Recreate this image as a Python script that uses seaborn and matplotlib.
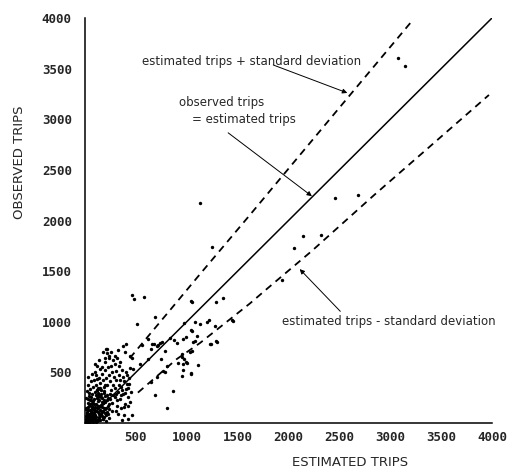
import pandas as pd
import matplotlib
matplotlib.use("Agg")
import matplotlib.pyplot as plt
import seaborn as sns

# dense blob of zones near the origin
cluster_est = [10, 20, 30, 40, 50, 60, 70, 80, 90, 15, 25, 35, 45, 55, 65, 75, 85, 95,
               5, 12, 30, 50, 60, 70, 80, 90, 20, 100, 40, 8, 18, 28, 38, 48, 58, 68, 78, 88, 98, 110,
               110, 120, 130, 140, 150, 160, 170, 180, 190, 200, 210, 220, 230, 240, 250,
               105, 115, 125, 135, 145, 155, 165, 175, 185, 195, 205, 215, 225, 235, 245,
               120, 140, 160, 180, 200, 220, 240, 130, 150, 170, 190, 210, 230,
               10, 20, 30, 40, 50, 60, 70, 80, 90, 100, 110, 120, 130, 140, 150,
               25, 45, 65, 85, 105, 125, 145, 35, 55, 75, 95, 115, 135,
               260, 270, 280, 290, 300, 310, 320, 330, 340, 350, 360, 370, 380, 390, 400, 410, 420, 430, 440, 450,
               265, 285, 305, 325, 345, 365, 385, 405, 425, 445,
               275, 295, 315, 335, 355, 375, 395, 415, 435, 300, 350, 420, 380,
               160, 180, 200, 220, 240, 260, 280, 300, 170, 190, 210, 230, 250, 270, 290, 310, 330,
               150, 200, 240, 120, 140, 180, 220, 100, 260, 320, 340]
cluster_obs = [20, 60, 10, 90, 40, 120, 20, 70, 140, 110, 160, 40, 130, 80, 170, 50, 100, 30,
               70, 140, 200, 10, 60, 110, 150, 190, 30, 80, 170, 40, 90, 130, 60, 190, 30, 150, 100, 40, 120, 10,
               60, 150, 220, 90, 30, 180, 250, 120, 60, 210, 150, 280, 90, 190, 240,
               190, 250, 110, 30, 170, 260, 70, 200, 300, 140, 20, 230, 170, 50, 290,
               20, 230, 120, 40, 270, 110, 140, 300, 80, 160, 230, 80, 250,
               250, 320, 380, 270, 340, 410, 290, 360, 240, 310, 380, 430, 350, 280, 400,
               450, 230, 480, 420, 470, 260, 340, 300, 260, 220, 500, 330, 440,
               330, 200, 380, 260, 420, 170, 310, 470, 240, 360, 520, 290, 410, 190, 340, 470, 260, 390, 540, 310,
               120, 450, 290, 90, 420, 330, 160, 500, 350, 210,
               280, 350, 230, 380, 280, 450, 300, 390, 440, 120, 150, 170, 80,
               330, 420, 520, 380, 470, 560, 620, 510, 480, 360, 440, 550, 410, 500, 580, 640, 560,
               530, 600, 660, 560, 620, 700, 730, 580, 700, 720, 600]

# the solid black core right at the origin
core_est = [5, 15, 25, 35, 45, 55, 65, 75, 85, 95, 105, 115, 125, 135, 145, 155, 165, 175, 185, 195,
            10, 30, 50, 70, 90, 110, 130, 150, 170, 190,
            20, 40, 60, 80, 100, 120, 140, 160, 180, 200]
core_obs = [5, 45, 25, 65, 15, 95, 35, 135, 75, 55, 115, 25, 165, 45, 125, 85, 205, 35, 145, 95,
            150, 240, 90, 200, 60, 280, 170, 350, 110, 320,
            100, 20, 230, 10, 160, 330, 60, 290, 200, 380]

# remaining zones
spread_est = [3080, 3149, 2460, 2686, 2145, 2322, 2057, 1938, 1131, 1250,
              1053, 1289, 1358, 974, 1082, 1131, 1200, 1220, 1456, 1053, 1102, 964, 876, 1289, 1082,
              463, 482, 581, 689, 512, 1043, 1279, 1446, 836, 738, 718, 994, 1043, 1240,
              954, 974, 994, 915, 807, 1112, 1043, 954, 689, 866, 807, 463,
              207, 197, 236, 295, 374, 394, 443, 463, 561, 620, 649, 679, 748, 620, 541, 472, 167,
              404, 217, 659, 708, 758, 905, 1063, 1230, 1299, 787, 954, 1033, 1053, 964, 1004, 768, 787,
              964, 1043, 649, 708, 423, 364]
spread_obs = [3605, 3526, 2226, 2256, 1842, 1852, 1724, 1409, 2177, 1734,
              1192, 1192, 1231, 985, 995, 975, 995, 1015, 1005, 906, 857, 827, 818, 808, 808,
              1261, 1221, 1241, 1044, 975, 1202, 955, 1015, 837, 788, 768, 847, 916, 778,
              650, 630, 601, 591, 562, 571, 483, 463, 276, 315, 148, 79,
              729, 640, 640, 660, 758, 699, 660, 640, 768, 827, 729, 778, 630, 630, 581, 532, 552,
              778, 690, 778, 758, 798, 788, 798, 778, 798, 709, 680, 699, 709, 581, 591, 512, 502,
              522, 493, 404, 453, 39, 30]

# reference curves
equal_trips = [0, 4000]
upper_est = [440, 840, 1130, 1600, 2040, 2580, 3230]
upper_obs = [640, 1120, 1470, 2030, 2560, 3210, 3990]
lower_est = [520, 900, 1130, 1620, 1800, 2230, 2840, 3400, 3970]
lower_obs = [300, 630, 790, 1180, 1335, 1700, 2250, 2740, 3240]

ticks = [500, 1000, 1500, 2000, 2500, 3000, 3500, 4000]
tick_labels = ["500", "1000", "1500", "2000", "2500", "3000", "3500", "4000"]

df = pd.DataFrame({"est": cluster_est + core_est + spread_est,
                   "obs": cluster_obs + core_obs + spread_obs})

sns.set_style("white")
fig = plt.figure(figsize=(5.11, 4.68), dpi=100)
ax = fig.add_axes([85 / 511, 45 / 468, 407 / 511, 405 / 468])

sns.scatterplot(data=df, x="est", y="obs", color="black", s=6, linewidth=0, ax=ax)
sns.lineplot(x=equal_trips, y=equal_trips, color="black", lw=1.1, ax=ax)
sns.lineplot(x=upper_est, y=upper_obs, color="black", lw=1.3, linestyle=(0, (4, 3)), ax=ax)
sns.lineplot(x=lower_est, y=lower_obs, color="black", lw=1.3, linestyle=(0, (4, 3)), ax=ax)

ax.set_xlim(0, 4000)
ax.set_ylim(0, 4000)
for side in ["top", "right"]:
    ax.spines[side].set_visible(False)
for side in ["left", "bottom"]:
    ax.spines[side].set_color("black")
    ax.spines[side].set_linewidth(1.1)

ax.set_xticks(ticks)
ax.set_yticks(ticks)
ax.set_xticklabels(tick_labels, fontfamily="DejaVu Sans Mono", fontweight="bold", fontsize=9)
ax.set_yticklabels(tick_labels, fontfamily="DejaVu Sans Mono", fontweight="bold", fontsize=9)
ax.tick_params(axis="x", direction="inout", length=6, width=1, pad=3, color="black")
ax.tick_params(axis="y", direction="out", length=6.5, width=1, pad=3, color="black")

ax.set_xlabel("ESTIMATED TRIPS", fontsize=9.5)
ax.set_ylabel("OBSERVED TRIPS", fontsize=9.5)
ax.xaxis.set_label_coords(0.651, -0.081)
ax.yaxis.set_label_coords(-0.145, 0.644)

arrow = dict(arrowstyle="-|>", color="black", lw=0.7, mutation_scale=7, shrinkA=0, shrinkB=0)
ax.text(561, 3566, "estimated trips + standard deviation", fontsize=8.5, va="center")
ax.annotate("", xy=(2578, 3260), xytext=(1850, 3536), arrowprops=arrow)
ax.text(925, 3162, "observed trips", fontsize=8.5, va="center")
ax.text(1053, 2994, "= estimated trips", fontsize=8.5, va="center")
ax.annotate("", xy=(2230, 2240), xytext=(1407, 2866), arrowprops=arrow)
ax.text(1938, 1005, "estimated trips - standard deviation", fontsize=8.5, va="center")
ax.annotate("", xy=(2110, 1520), xytext=(2509, 1103), arrowprops=arrow)

fig.savefig("out.png", dpi=100)
